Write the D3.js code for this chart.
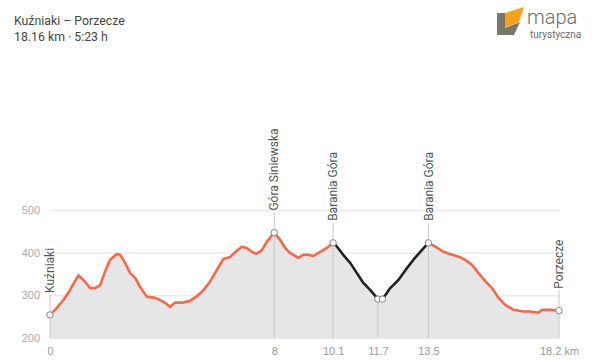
<html>
<head>
<meta charset="UTF-8">
<title>Kuźniaki – Porzecze</title>
<style>
  body { margin: 0; background: #fff; font-family: Roboto, "Noto Sans", sans-serif; }
  .grid line { stroke: #ebebeb; stroke-width: 1.5; }
  .grid text { fill: #aaa; font-size: 11px; }
  .xaxis text { fill: #999; font-size: 11px; }
  .wp-line { stroke: #c8c8c8; stroke-width: 1; }
  .wp-label { fill: #555; font-size: 12px; }
</style>
</head>
<body>
<script src="https://cdnjs.cloudflare.com/ajax/libs/d3/7.8.5/d3.min.js"></script>
<script>

// profile: distance (km) and elevation (m)
var distKm = [0, 0.18, 0.48, 0.71, 1.01, 1.25, 1.43, 1.61, 1.79, 1.96, 2.14, 2.38, 2.5, 2.68, 2.86, 3.04,
  3.21, 3.45, 3.75, 3.93, 4.11, 4.29, 4.46, 4.75, 5.0, 5.24, 5.46, 5.71, 5.95, 6.18, 6.43, 6.67, 6.85,
  7.02, 7.2, 7.36, 7.56, 7.74, 8.0, 8.21, 8.39, 8.57, 8.86, 9.04, 9.21, 9.39, 9.64, 9.88, 10.1,
  10.24, 10.46, 10.71, 10.95, 11.18, 11.43, 11.7, 11.86, 12.14, 12.43, 12.68, 12.96, 13.21, 13.5,
  13.75, 14.04, 14.35, 14.64, 14.82, 15.06, 15.29, 15.54, 15.77, 16.0, 16.25, 16.54, 16.89, 17.14,
  17.43, 17.56, 17.86, 18.16];
var elevM = [254, 266, 289, 312, 347, 332, 317, 317, 324, 355, 383, 397, 395, 376, 352, 341,
  320, 297, 294, 289, 282, 273, 283, 283, 287, 298, 311, 332, 359, 385, 390, 405, 414,
  411, 402, 397, 406, 426, 447, 430, 411, 399, 388, 395, 395, 392, 402, 411, 423,
  414, 395, 376, 352, 329, 312, 291, 291, 317, 336, 359, 383, 402, 423,
  414, 402, 395, 389, 383, 371, 352, 332, 317, 294, 277, 266, 262, 262,
  259, 266, 266, 264];

// dark section of the route
var darkFrom = 10.1, darkTo = 13.5;

// waypoints
var wpKm = [0, 8, 10.1, 11.7, 11.86, 13.5, 18.16];
var wpElev = [254, 447, 423, 291, 291, 423, 264];
var wpName = ["Kuźniaki", "Góra Siniewska", "Barania Góra", "", "", "Barania Góra", "Porzecze"];
var wpStem = [true, true, true, true, false, true, true];

var yTicks = [200, 300, 400, 500];
var xTicks = [0, 8, 10.1, 11.7, 13.5, 18.16];
var xTickLabels = ["0", "8", "10.1", "11.7", "13.5", "18.2 km"];

var title = "Kuźniaki – Porzecze";
var subtitle = "18.16 km · 5:23 h";

var width = 600, height = 362;
var svg = d3.select("body").append("svg")
    .attr("width", width)
    .attr("height", height);

var x = d3.scaleLinear().domain([0, 18.16]).range([50, 559]);
var y = d3.scaleLinear().domain([200, 500]).range([338, 210]);

var pts = distKm.map(function(d, i) { return { km: d, e: elevM[i] }; });

// y grid
var yAxis = d3.axisLeft(y).tickValues(yTicks).tickSize(-(560 - 50)).tickPadding(10);
svg.append("g")
    .attr("class", "grid")
    .attr("transform", "translate(50,0)")
    .call(yAxis)
    .call(function(g) { g.select(".domain").remove(); });

// area
var area = d3.area()
    .x(function(d) { return x(d.km); })
    .y0(y(200))
    .y1(function(d) { return y(d.e); });
svg.append("path")
    .datum(pts)
    .attr("d", area)
    .attr("fill", "#e6e6e6");

// waypoint stems and labels
var wps = wpKm.map(function(d, i) { return { km: d, e: wpElev[i], name: wpName[i], stem: wpStem[i] }; });
wps.forEach(function(w) {
  var px = x(w.km), py = y(w.e);
  if (w.stem) {
    svg.append("line")
        .attr("class", "wp-line")
        .attr("x1", px).attr("x2", px)
        .attr("y1", w.name ? py - 20 : py)
        .attr("y2", y(200));
  }
  if (w.name) {
    svg.append("text")
        .attr("class", "wp-label")
        .attr("transform", "translate(" + px + "," + (py - 22) + ") rotate(-90)")
        .attr("dy", "0.35em")
        .text(w.name);
  }
});

// profile line
var line = d3.line()
    .x(function(d) { return x(d.km); })
    .y(function(d) { return y(d.e); });
var before = pts.filter(function(d) { return d.km <= darkFrom; });
var dark = pts.filter(function(d) { return d.km >= darkFrom && d.km <= darkTo; });
var after = pts.filter(function(d) { return d.km >= darkTo; });
[[before, "#f4694b"], [dark, "#222"], [after, "#f4694b"]].forEach(function(s) {
  svg.append("path")
      .datum(s[0])
      .attr("d", line)
      .attr("fill", "none")
      .attr("stroke", s[1])
      .attr("stroke-width", 2.6)
      .attr("stroke-linejoin", "round")
      .attr("stroke-linecap", "round");
});

// markers
svg.selectAll("circle.wp")
    .data(wps)
  .enter().append("circle")
    .attr("class", "wp")
    .attr("cx", function(d) { return x(d.km); })
    .attr("cy", function(d) { return y(d.e); })
    .attr("r", 3.2)
    .attr("fill", "#fff")
    .attr("stroke", "#888")
    .attr("stroke-width", 1);

// x axis
var xAxis = d3.axisBottom(x).tickValues(xTicks).tickSize(0).tickPadding(9)
    .tickFormat(function(d, i) { return xTickLabels[i]; });
svg.append("g")
    .attr("class", "xaxis")
    .attr("transform", "translate(0,338)")
    .call(xAxis)
    .call(function(g) { g.select(".domain").remove(); });

// title
svg.append("text").attr("x", 14).attr("y", 25).attr("fill", "#444").style("font-size", "12.3px").text(title);
svg.append("text").attr("x", 14).attr("y", 41).attr("fill", "#444").style("font-size", "12.3px").text(subtitle);

// logo
var logo = svg.append("g");
logo.append("path").attr("d", "M497,13 L505,13 L505,28 L520,22 L514,35 L497,35 Z").attr("fill", "#77776a");
logo.append("path").attr("d", "M505,13 L524,7 L519,22 L505,28 Z").attr("fill", "#f7a21b");
logo.append("text").attr("x", 527).attr("y", 24).attr("fill", "#6d6d62")
    .style("font-size", "20px").style("font-weight", 300).text("mapa");
logo.append("text").attr("x", 530).attr("y", 38).attr("fill", "#6d6d62")
    .style("font-size", "10px").text("turystyczna");

</script>
</body>
</html>
